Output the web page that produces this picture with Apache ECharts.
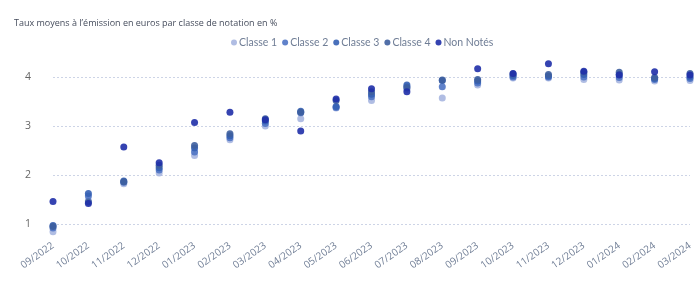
<!DOCTYPE html>
<html><head><meta charset="utf-8">
<script src="https://cdn.jsdelivr.net/npm/echarts@6/dist/echarts.min.js"></script>
<style>html,body{margin:0;padding:0;background:#fff}#c{width:698px;height:281px}</style>
</head><body><div id="c"></div>
<script>
const categories = ['09/2022','10/2022','11/2022','12/2022','01/2023','02/2023','03/2023','04/2023','05/2023','06/2023','07/2023','08/2023','09/2023','10/2023','11/2023','12/2023','01/2024','02/2024','03/2024'];
const classe1 = [0.84,1.48,1.82,2.04,2.40,2.72,3.00,3.15,3.37,3.52,3.75,3.57,3.84,3.98,3.98,3.95,3.94,3.92,3.93];
const classe2 = [0.92,1.57,1.85,2.10,2.47,2.76,3.05,3.27,3.38,3.60,3.80,3.80,3.88,4.00,4.00,4.00,3.99,3.95,3.97];
const classe3 = [0.97,1.62,1.88,2.15,2.55,2.80,3.10,3.30,3.40,3.65,3.84,3.93,3.92,4.03,4.02,4.05,4.05,3.97,4.00];
const classe4 = [0.95,1.45,1.86,2.20,2.60,2.84,3.15,3.28,3.52,3.70,3.78,3.94,3.95,4.06,4.05,4.10,4.10,3.99,4.07];
const nonNotes = [1.46,1.42,2.57,2.25,3.07,3.28,3.13,2.90,3.55,3.76,3.70,null,4.17,4.07,4.27,4.12,4.04,4.11,4.04];
const yTicks = [1,2,3,4];

const names = ['Classe 1','Classe 2','Classe 3','Classe 4','Non Notés'];
const colors = ['#a7b6e0','#4f74c4','#3560b4','#3e5f9e','#1f2fa8'];
const datas = [classe1, classe2, classe3, classe4, nonNotes];
const font = '"Open Sans", "Noto Sans", sans-serif';

const chart = echarts.init(document.getElementById('c'), null, {renderer:'canvas'});
chart.setOption({
  animation:false,
  color: colors,
  title:{text:'Taux moyens à l\u2019émission en euros par classe de notation en %', left:9, top:14,
    textStyle:{fontSize:9, fontWeight:'normal', color:'#454c5c', fontFamily:font}},
  legend:{data:names, left:226, top:32, icon:'circle', itemWidth:6, itemHeight:6, itemGap:5,
    textStyle:{fontSize:10.5, color:'#6f7d95', fontFamily:'Lato, "Open Sans", sans-serif', padding:[0,0,0,-3]}},
  grid:{left:53, right:8, top:55, bottom:43.3},
  xAxis:{type:'category', data:categories, boundaryGap:false,
    axisLine:{show:false}, axisTick:{show:false},
    axisLabel:{rotate:35, fontSize:10, color:'#6f7d95', fontFamily:font, margin:7},
    splitLine:{show:false}},
  yAxis:{type:'value', min:0.72, max:4.45, splitNumber:4,
    axisLine:{show:false}, axisTick:{show:false},
    axisLabel:{fontSize:10.5, color:'#666', fontFamily:font, margin:22,
      showMinLabel:false, showMaxLabel:false,
      formatter: v => yTicks.includes(v) ? String(v) : ''},
    splitLine:{show:true, showMinLine:false, showMaxLine:false,
      lineStyle:{type:[2,2], color:'#cdd4e6', width:1}}},
  series: names.map((n,i)=>({name:n, type:'scatter', data:datas[i], symbolSize:7,
    itemStyle:{color:colors[i], opacity:0.9}}))
});
</script></body></html>
